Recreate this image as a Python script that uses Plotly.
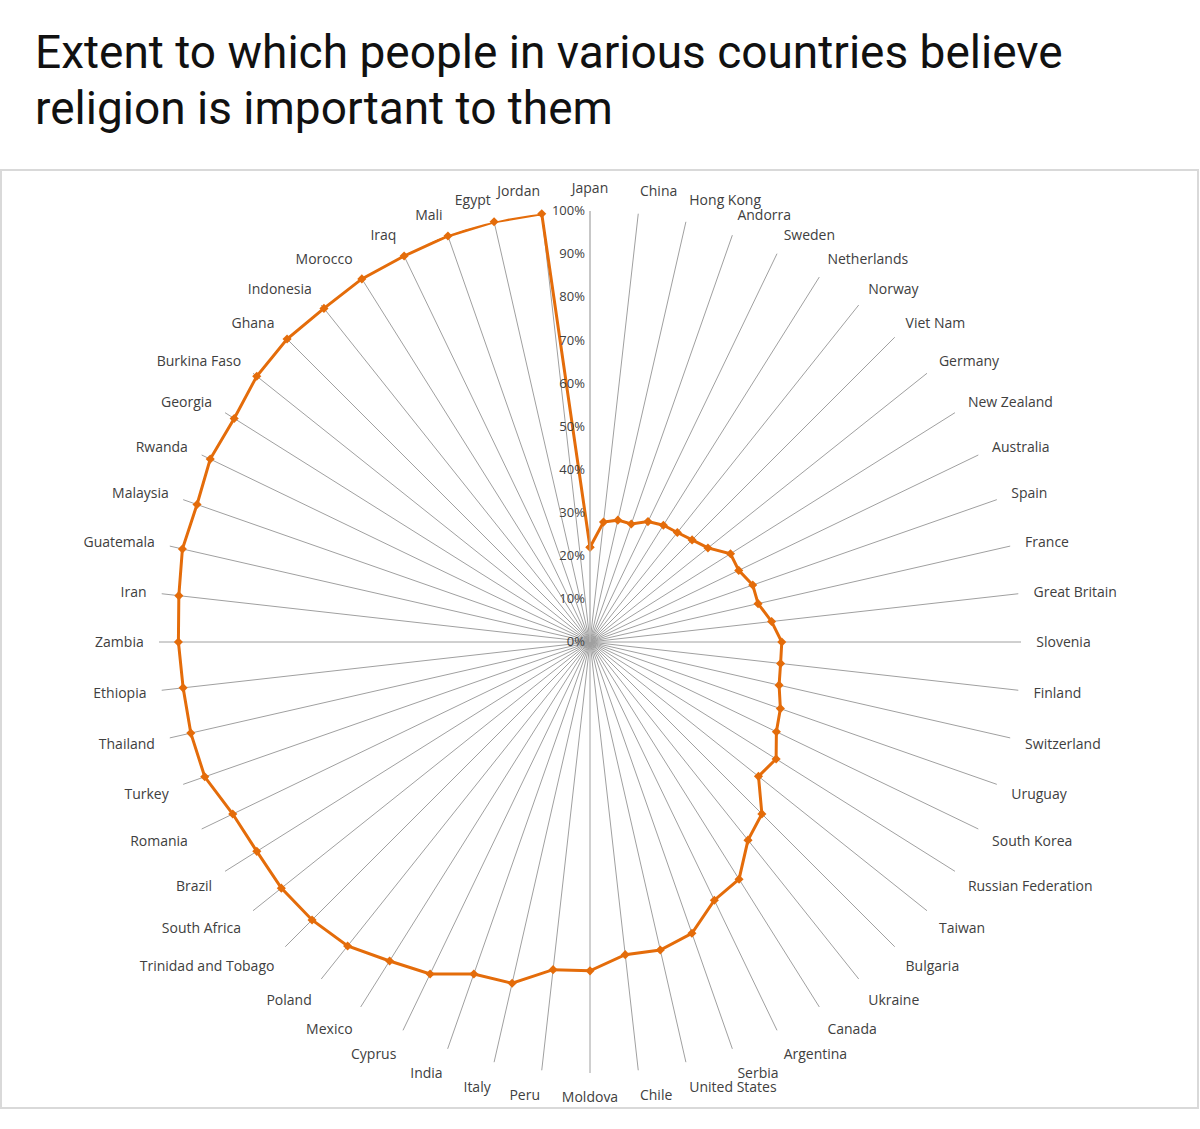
import plotly.graph_objects as go

countries = [
    "Japan", "China", "Hong Kong", "Andorra", "Sweden", "Netherlands", "Norway",
    "Viet Nam", "Germany", "New Zealand", "Australia", "Spain", "France",
    "Great Britain", "Slovenia", "Finland", "Switzerland", "Uruguay",
    "South Korea", "Russian Federation", "Taiwan", "Bulgaria", "Ukraine",
    "Canada", "Argentina", "Serbia", "United States", "Chile", "Moldova",
    "Peru", "Italy", "India", "Cyprus", "Mexico", "Poland",
    "Trinidad and Tobago", "South Africa", "Brazil", "Romania", "Turkey",
    "Thailand", "Ethiopia", "Zambia", "Iran", "Guatemala", "Malaysia",
    "Rwanda", "Georgia", "Burkina Faso", "Ghana", "Indonesia", "Morocco",
    "Iraq", "Mali", "Egypt", "Jordan",
]

importance = [
    0.22, 0.28, 0.29, 0.29, 0.31, 0.32, 0.325,
    0.335, 0.35, 0.385, 0.383, 0.40, 0.40,
    0.424, 0.445, 0.445, 0.45, 0.468,
    0.48, 0.51, 0.50, 0.564, 0.588,
    0.65, 0.665, 0.716, 0.733, 0.73, 0.763,
    0.765, 0.812, 0.816, 0.855, 0.874, 0.902,
    0.912, 0.916, 0.913, 0.92, 0.947,
    0.95, 0.95, 0.955, 0.96, 0.97, 0.966,
    0.978, 0.975, 0.989, 0.994, 0.99, 0.995,
    0.994, 0.998, 1.0, 1.0,
]

title_lines = ["Extent to which people in various countries believe",
               "religion is important to them"]

W, H = 1200, 1129
cx, cy, R = 590, 642, 431

r_closed = importance + [importance[0]]
theta_closed = countries + [countries[0]]

fig = go.Figure()
fig.add_trace(go.Scatterpolar(
    r=r_closed,
    theta=theta_closed,
    mode="lines+markers",
    line=dict(color="#E46C0A", width=3),
    marker=dict(symbol="diamond", size=7, color="#E46C0A"),
    showlegend=False,
))

title_ann = [dict(
    text=t, xref="paper", yref="paper",
    x=33 / W, y=1 - yc / H, xanchor="left", yanchor="middle",
    align="left", showarrow=False,
    font=dict(family="Roboto, sans-serif", size=46, color="#111111"),
) for t, yc in zip(title_lines, [52, 108])]

fig.update_layout(
    width=W, height=H,
    margin=dict(l=0, r=0, t=0, b=0),
    paper_bgcolor="white",
    plot_bgcolor="white",
    font=dict(family="Open Sans, sans-serif", color="#404040"),
    polar=dict(
        domain=dict(x=[(cx - R) / W, (cx + R) / W],
                    y=[1 - (cy + R) / H, 1 - (cy - R) / H]),
        bgcolor="rgba(0,0,0,0)",
        angularaxis=dict(
            rotation=90,
            direction="clockwise",
            categoryorder="array",
            categoryarray=countries,
            showline=False,
            showgrid=True,
            gridcolor="#a0a0a0",
            gridwidth=1,
            ticks="outside",
            ticklen=12,
            tickcolor="rgba(0,0,0,0)",
            tickfont=dict(size=14, color="#404040", family="Open Sans, sans-serif"),
        ),
        radialaxis=dict(
            range=[0, 1],
            dtick=0.1,
            tick0=0,
            tickformat=".0%",
            angle=90,
            tickangle=90,
            side="counterclockwise",
            showgrid=False,
            showline=True,
            linecolor="#bfbfbf",
            linewidth=1,
            ticks="",
            tickfont=dict(size=13, color="#404040", family="Open Sans, sans-serif"),
        ),
    ),
    shapes=[dict(type="rect", xref="paper", yref="paper",
                 x0=1 / W, x1=1198 / W, y0=1 - 1108 / H, y1=1 - 170 / H,
                 line=dict(color="#d9d9d9", width=2), layer="below")],
    annotations=title_ann,
)

fig.write_html("out.html")
